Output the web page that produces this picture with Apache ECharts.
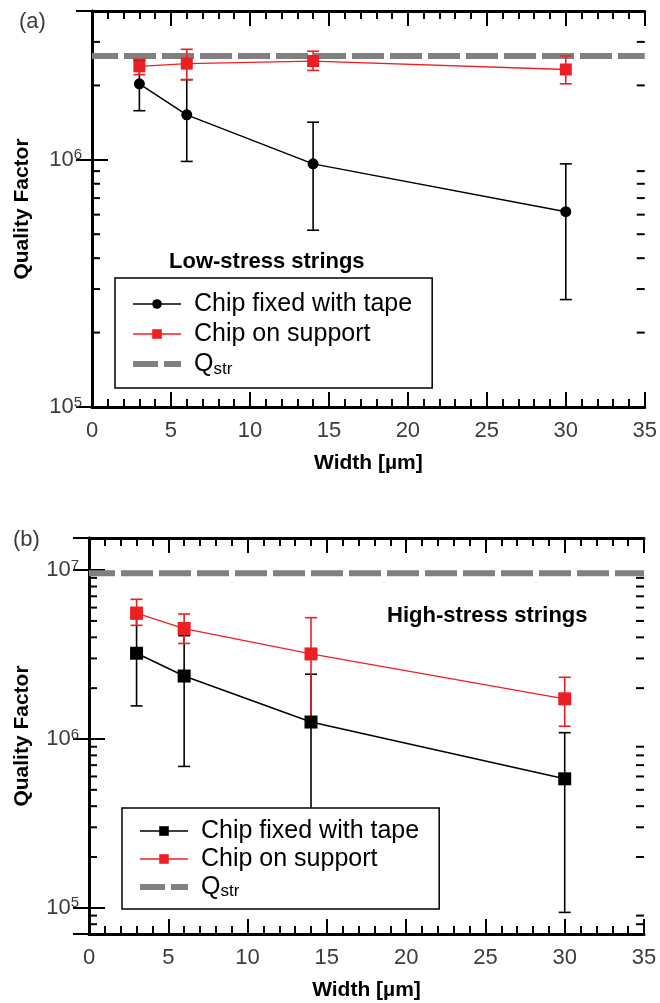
<!DOCTYPE html>
<html>
<head>
<meta charset="utf-8">
<script src="https://cdn.jsdelivr.net/npm/echarts@6/dist/echarts.min.js"></script>
<style>
  html, body { margin: 0; padding: 0; background: #fff; }
  #main { width: 660px; height: 1003px; }
</style>
</head>
<body>
<div id="main"></div>
<script>
// widths of the strings [um]
var widths = [3, 6, 14, 30];

// (a) low-stress strings
var lowTape = [2.03e6, 1.52e6, 0.963e6, 0.617e6];
var lowTapeHi = [2.53e6, 2.11e6, 1.42e6, 0.963e6];
var lowTapeLo = [1.58e6, 0.985e6, 0.519e6, 0.272e6];
var lowSupport = [2.39e6, 2.45e6, 2.51e6, 2.32e6];
var lowSupportHi = [2.55e6, 2.80e6, 2.75e6, 2.63e6];
var lowSupportLo = [2.21e6, 2.11e6, 2.30e6, 2.03e6];
var lowQstr = 2.63e6;

// (b) high-stress strings
var highTape = [3.22e6, 2.36e6, 1.26e6, 0.581e6];
var highTapeHi = [5.16e6, 4.09e6, 2.42e6, 1.09e6];
var highTapeLo = [1.57e6, 0.688e6, 0.25e6, 0.094e6];
var highSupport = [5.57e6, 4.51e6, 3.19e6, 1.73e6];
var highSupportHi = [6.72e6, 5.5e6, 5.23e6, 2.32e6];
var highSupportLo = [4.71e6, 3.68e6, 1.24e6, 1.19e6];
var highQstr = 9.6e6;

var xRange = [0, 35];
var lowYRange = [1e5, 4e6];
var highYRange = [7e4, 1.55e7];

var legendNames = {
    tapeA: 'Chip fixed with tape', suppA: 'Chip on support', qA: '{q|Q}{s|str}',
    tapeB: 'Chip fixed with tape', suppB: 'Chip on support', qB: '{q|Q}{s|str}'
};

var RED = '#ee1f24';
var GRAY = '#808080';
var FONT = 'Liberation Sans, Arial, Helvetica, sans-serif';

function pairs(xs, ys) {
    return xs.map(function (x, i) { return [x, ys[i]]; });
}
function triples(xs, lo, hi) {
    return xs.map(function (x, i) { return [x, lo[i], hi[i]]; });
}

// minor log ticks 2..9 per decade inside a range
function minorTicks(range) {
    var out = [];
    for (var e = -1 + Math.floor(Math.log10(range[0])); e <= Math.ceil(Math.log10(range[1])); e++) {
        for (var m = 2; m <= 9; m++) {
            var v = m * Math.pow(10, e);
            if (v > range[0] && v < range[1]) out.push([0, v]);
        }
    }
    return out;
}

function xAxisPair(gridIndex) {
    var base = {
        gridIndex: gridIndex, type: 'value', min: xRange[0], max: xRange[1], interval: 5,
        axisLine: { lineStyle: { color: '#000', width: 3 } },
        axisTick: { inside: true, length: 15, lineStyle: { color: '#000', width: 2 } },
        minorTick: { show: true, splitNumber: 5, length: 8, lineStyle: { color: '#000', width: 2 } },
        splitLine: { show: false }
    };
    var bottom = Object.assign({}, base, {
        position: 'bottom',
        axisLabel: { fontSize: 22, color: '#3c3c3c', margin: 13, fontFamily: FONT },
        name: 'Width [µm]', nameLocation: 'middle', nameGap: 46,
        nameTextStyle: { fontSize: 21, fontWeight: 'bold', color: '#000', fontFamily: FONT }
    });
    var top = Object.assign({}, base, { position: 'top', axisLabel: { show: false } });
    return [bottom, top];
}

function yAxisPair(gridIndex, range, nameGap) {
    var base = {
        gridIndex: gridIndex, type: 'log', logBase: 10, min: range[0], max: range[1],
        axisLine: { lineStyle: { color: '#000', width: 3 } },
        axisTick: { inside: true, length: 16, lineStyle: { color: '#000', width: 2 } },
        splitLine: { show: false }
    };
    var left = Object.assign({}, base, {
        position: 'left',
        axisLabel: {
            margin: 10,
            formatter: function (v) {
                var e = Math.log10(v);
                if (Math.abs(e - Math.round(e)) > 1e-6) return '';
                return '{a|10}{b|' + Math.round(e) + '}';
            },
            rich: {
                a: { fontSize: 22, color: '#3c3c3c', fontFamily: FONT, lineHeight: 24 },
                b: { fontSize: 15, color: '#3c3c3c', fontFamily: FONT, verticalAlign: 'top', lineHeight: 14 }
            }
        },
        name: 'Quality Factor', nameLocation: 'middle', nameGap: nameGap, nameRotate: 90,
        nameTextStyle: { fontSize: 21, fontWeight: 'bold', color: '#000', fontFamily: FONT }
    });
    var right = Object.assign({}, base, { position: 'right', axisLabel: { show: false } });
    return [left, right];
}

function errorSeries(name, xi, yi, data, color) {
    return {
        name: name, type: 'custom', xAxisIndex: xi, yAxisIndex: yi, data: data, z: 3,
        renderItem: function (params, api) {
            var top = api.coord([api.value(0), api.value(2)]);
            var bot = api.coord([api.value(0), api.value(1)]);
            var w = 6;
            var st = { stroke: color, lineWidth: 1.6 };
            return {
                type: 'group', children: [
                    { type: 'line', shape: { x1: top[0], y1: top[1], x2: bot[0], y2: bot[1] }, style: st },
                    { type: 'line', shape: { x1: top[0] - w, y1: top[1], x2: top[0] + w, y2: top[1] }, style: st },
                    { type: 'line', shape: { x1: bot[0] - w, y1: bot[1], x2: bot[0] + w, y2: bot[1] }, style: st }
                ]
            };
        }
    };
}

function minorTickSeries(xi, yi, range) {
    return {
        type: 'custom', xAxisIndex: xi, yAxisIndex: yi, data: minorTicks(range), z: 5, silent: true,
        renderItem: function (params, api) {
            var l = api.coord([xRange[0], api.value(1)]);
            var r = api.coord([xRange[1], api.value(1)]);
            var st = { stroke: '#000', lineWidth: 2 };
            return {
                type: 'group', children: [
                    { type: 'line', shape: { x1: l[0], y1: l[1], x2: l[0] + 8, y2: l[1] }, style: st },
                    { type: 'line', shape: { x1: r[0] - 8, y1: r[1], x2: r[0], y2: r[1] }, style: st }
                ]
            };
        }
    };
}

function qstrSeries(name, xi, yi, q) {
    return {
        name: name, type: 'line', xAxisIndex: xi, yAxisIndex: yi, z: 1,
        data: [[xRange[0], q], [xRange[1], q]], symbol: 'none', silent: true,
        lineStyle: { color: GRAY, width: 6, type: [32, 6], dashOffset: 6 },
        itemStyle: { color: GRAY }
    };
}

function dataSeries(name, xi, yi, ys, color, symbol, size, lw) {
    return {
        name: name, type: 'line', xAxisIndex: xi, yAxisIndex: yi, z: 4,
        data: pairs(widths, ys), symbol: symbol, symbolSize: size,
        lineStyle: { color: color, width: lw }, itemStyle: { color: color }
    };
}

function legendBox(names, left, top, lineHeight, pad) {
    return {
        data: [
            { name: names[0] },
            { name: names[1] },
            { name: names[2], itemStyle: { opacity: 0 }, lineStyle: { width: 6, type: [31, 6], color: GRAY } }
        ],
        orient: 'vertical', left: left, top: top,
        itemWidth: 48, itemHeight: 12, itemGap: 2,
        padding: pad,
        backgroundColor: '#fff', borderColor: '#000', borderWidth: 1.5, borderRadius: 0,
        selectedMode: false,
        lineStyle: { width: 1.5 },
        formatter: function (n) { return legendNames[n]; },
        textStyle: {
            fontSize: 25, color: '#000', fontFamily: FONT, lineHeight: lineHeight, padding: [0, 0, 0, 8],
            rich: {
                q: { fontSize: 25, color: '#000', fontFamily: FONT, lineHeight: lineHeight },
                s: { fontSize: 17, color: '#000', fontFamily: FONT, verticalAlign: 'bottom', lineHeight: lineHeight - 6 }
            }
        }
    };
}

var xa = xAxisPair(0), xb = xAxisPair(1);
var ya = yAxisPair(0, lowYRange, 59), yb = yAxisPair(1, highYRange, 56);

var option = {
    animation: false,
    backgroundColor: '#fff',
    textStyle: { fontFamily: FONT },
    title: [
        { text: '(a)', left: 14, top: 6, textStyle: { fontSize: 22, fontWeight: 'normal', color: '#3c3c3c', fontFamily: FONT } },
        { text: '(b)', left: 8, top: 524, textStyle: { fontSize: 22, fontWeight: 'normal', color: '#3c3c3c', fontFamily: FONT } },
        { text: 'Low-stress strings', left: 164, top: 246, textStyle: { fontSize: 22, fontWeight: 'bold', color: '#000', fontFamily: FONT } },
        { text: 'High-stress strings', left: 382, top: 600, textStyle: { fontSize: 22, fontWeight: 'bold', color: '#000', fontFamily: FONT } }
    ],
    grid: [
        { left: 92, top: 11, width: 555, height: 396 },
        { left: 89, top: 538, width: 555, height: 396 }
    ],
    xAxis: [xa[0], xa[1], xb[0], xb[1]],
    yAxis: [ya[0], ya[1], yb[0], yb[1]],
    legend: [
        legendBox(['tapeA', 'suppA', 'qA'], 115, 278, 28, [12, 20, 10, 15]),
        legendBox(['tapeB', 'suppB', 'qB'], 122, 808, 26, [10, 20, 9, 15])
    ],
    series: [
        qstrSeries('qA', 0, 0, lowQstr),
        errorSeries('errTapeA', 0, 0, triples(widths, lowTapeLo, lowTapeHi), '#000'),
        dataSeries('tapeA', 0, 0, lowTape, '#000', 'circle', 11, 1.5),
        errorSeries('errSuppA', 0, 0, triples(widths, lowSupportLo, lowSupportHi), RED),
        dataSeries('suppA', 0, 0, lowSupport, RED, 'rect', 12, 1.3),
        minorTickSeries(0, 0, lowYRange),

        qstrSeries('qB', 2, 2, highQstr),
        errorSeries('errTapeB', 2, 2, triples(widths, highTapeLo, highTapeHi), '#000'),
        dataSeries('tapeB', 2, 2, highTape, '#000', 'rect', 13, 1.5),
        errorSeries('errSuppB', 2, 2, triples(widths, highSupportLo, highSupportHi), RED),
        dataSeries('suppB', 2, 2, highSupport, RED, 'rect', 13, 1.3),
        minorTickSeries(2, 2, highYRange)
    ]
};

var chart = echarts.init(document.getElementById('main'), null, { renderer: 'canvas' });
chart.setOption(option);
</script>
</body>
</html>
